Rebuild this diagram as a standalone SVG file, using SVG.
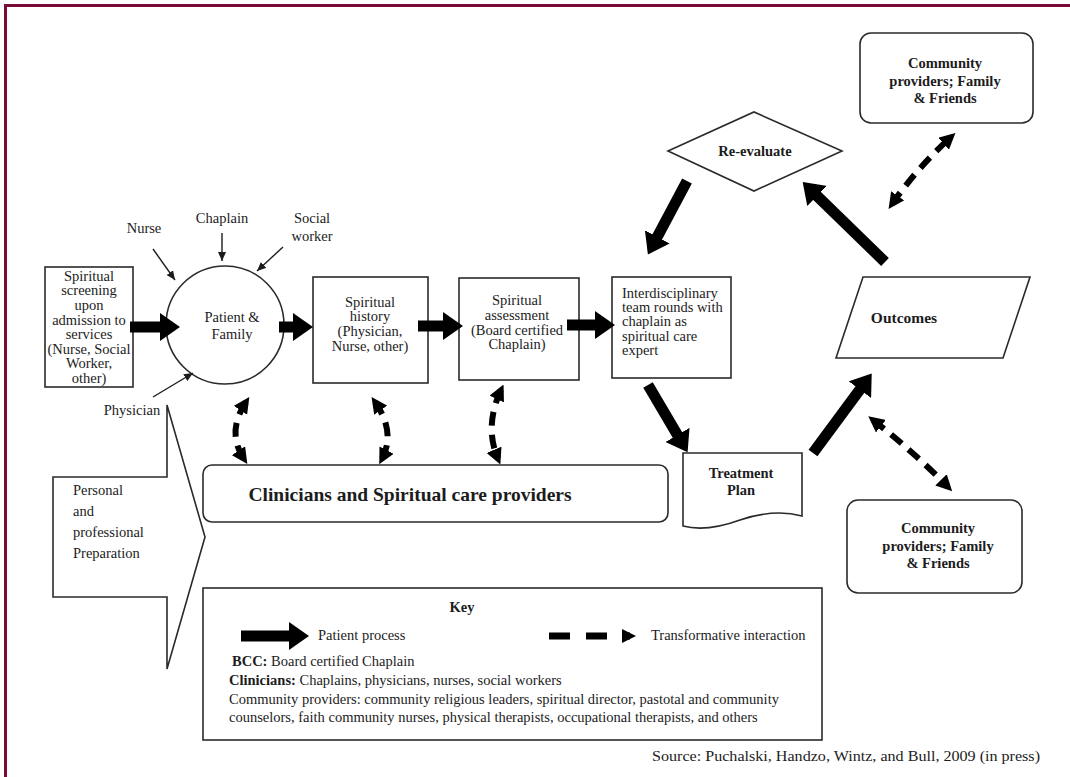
<svg xmlns="http://www.w3.org/2000/svg" width="1070" height="777" viewBox="0 0 1070 777">
<defs>
<style>
.t{font-family:"Liberation Serif","Times New Roman",serif;font-size:14.5px;fill:#1c1c1c}
.b{font-weight:bold}
.c{text-anchor:middle}
.box{fill:#fff;stroke:#2a2a2a;stroke-width:1.6}
.thick{fill:none;stroke:#000;stroke-width:11;marker-end:url(#hd)}
.dash{fill:none;stroke:#000;stroke-width:6;stroke-dasharray:14 9;marker-start:url(#dh);marker-end:url(#dh)}
.thin{fill:none;stroke:#1c1c1c;stroke-width:1.4;marker-end:url(#th)}
</style>
<marker id="hd" markerUnits="userSpaceOnUse" markerWidth="20" markerHeight="28" viewBox="0 0 20 28" refX="7" refY="14" orient="auto"><path d="M0,0 L20,14 L0,28 z" fill="#000"/></marker>
<marker id="dh" markerUnits="userSpaceOnUse" markerWidth="16" markerHeight="16" viewBox="0 0 16 16" refX="10" refY="8" orient="auto-start-reverse"><path d="M0,0 L16,8 L0,16 z" fill="#000"/></marker>
<marker id="kh" markerUnits="userSpaceOnUse" markerWidth="14" markerHeight="14" viewBox="0 0 14 14" refX="8" refY="7" orient="auto"><path d="M0,0 L14,7 L0,14 z" fill="#000"/></marker>
<marker id="th" markerUnits="userSpaceOnUse" markerWidth="9" markerHeight="8" viewBox="0 0 9 8" refX="9" refY="4" orient="auto"><path d="M0,0 L9,4 L0,8 z" fill="#1c1c1c"/></marker>
</defs>
<rect x="0" y="0" width="1070" height="777" fill="#fff"/>
<path d="M4,5.5 H1070 M5.5,5 V777" stroke="#7a0a3a" stroke-width="3" fill="none"/>

<g id="personal-preparation">
<path class="box" d="M53,477 H167 V405 L205,537 L167,669 V597 H53 Z"/>
<text class="t" x="73" y="495">Personal</text>
<text class="t" x="73" y="516">and</text>
<text class="t" x="73" y="537">professional</text>
<text class="t" x="73" y="558">Preparation</text>
</g>

<g id="screening">
<rect class="box" x="45" y="267" width="88" height="120"/>
<text class="t c" x="89" y="281">Spiritual</text>
<text class="t c" x="89" y="295">screening</text>
<text class="t c" x="89" y="310">upon</text>
<text class="t c" x="89" y="325">admission to</text>
<text class="t c" x="89" y="339">services</text>
<text class="t c" x="89" y="354">(Nurse, Social</text>
<text class="t c" x="89" y="368">Worker,</text>
<text class="t c" x="89" y="383">other)</text>
</g>

<g id="patient-family">
<circle class="box" cx="225" cy="325" r="59"/>
<text class="t c" x="232" y="322">Patient &amp;</text>
<text class="t c" x="232" y="339">Family</text>
</g>

<g id="labels">
<text class="t c" x="144" y="233">Nurse</text>
<text class="t c" x="222" y="223">Chaplain</text>
<text class="t c" x="312" y="223">Social</text>
<text class="t c" x="312" y="241">worker</text>
<text class="t c" x="132" y="415">Physician</text>
</g>

<g id="spiritual-history">
<rect class="box" x="313" y="277" width="115" height="106"/>
<text class="t c" x="370" y="307">Spiritual</text>
<text class="t c" x="370" y="321">history</text>
<text class="t c" x="370" y="336">(Physician,</text>
<text class="t c" x="370" y="351">Nurse, other)</text>
</g>

<g id="spiritual-assessment">
<rect class="box" x="459" y="278" width="120" height="102"/>
<text class="t c" x="517" y="305">Spiritual</text>
<text class="t c" x="517" y="320">assessment</text>
<text class="t c" x="517" y="335">(Board certified</text>
<text class="t c" x="517" y="349">Chaplain)</text>
</g>

<g id="team-rounds">
<rect class="box" x="612" y="277" width="119" height="101"/>
<text class="t" x="622" y="298">Interdisciplinary</text>
<text class="t" x="622" y="312">team rounds with</text>
<text class="t" x="622" y="326">chaplain as</text>
<text class="t" x="622" y="341">spiritual care</text>
<text class="t" x="622" y="355">expert</text>
</g>

<g id="re-evaluate">
<path class="box" d="M668,151 L754,112 L842,151 L754,191 Z"/>
<text class="t b c" x="755" y="156">Re-evaluate</text>
</g>

<g id="outcomes">
<path class="box" d="M863,277 H1030 L1003,358 H836 Z"/>
<text class="t b c" x="904" y="323" style="font-size:15.5px">Outcomes</text>
</g>

<g id="treatment-plan">
<path class="box" d="M683,453 H802 V516 C780,510 758,514 740,520 C718,528 698,530 683,526 Z"/>
<text class="t b c" x="741" y="478">Treatment</text>
<text class="t b c" x="741" y="495">Plan</text>
</g>

<g id="community-top">
<rect class="box" x="860" y="33" width="173" height="90" rx="11"/>
<text class="t b c" x="945" y="68">Community</text>
<text class="t b c" x="945" y="86">providers; Family</text>
<text class="t b c" x="945" y="103">&amp; Friends</text>
</g>

<g id="community-bottom">
<rect class="box" x="847" y="500" width="175" height="93" rx="11"/>
<text class="t b c" x="938" y="533">Community</text>
<text class="t b c" x="938" y="551">providers; Family</text>
<text class="t b c" x="938" y="568">&amp; Friends</text>
</g>

<g id="clinicians">
<rect class="box" x="203" y="465" width="465" height="57" rx="9"/>
<text class="t b c" x="410" y="501" style="font-size:19.5px">Clinicians and Spiritual care providers</text>
</g>

<g id="key">
<rect class="box" x="203" y="588" width="619" height="152"/>
<text class="t b c" x="462" y="612">Key</text>
<path d="M241,636 H296" fill="none" stroke="#000" stroke-width="11" marker-end="url(#hd)"/>
<text class="t" x="318" y="640">Patient process</text>
<path d="M549,636 H630" fill="none" stroke="#000" stroke-width="7" stroke-dasharray="21 16" marker-end="url(#kh)"/>
<text class="t" x="651" y="640">Transformative interaction</text>
<text class="t" x="232" y="666"><tspan class="b">BCC:</tspan> Board certified Chaplain</text>
<text class="t" x="229" y="685"><tspan class="b">Clinicians:</tspan> Chaplains, physicians, nurses, social workers</text>
<text class="t" x="229" y="704">Community providers: community religious leaders, spiritual director, pastotal and community</text>
<text class="t" x="229" y="722">counselors, faith community nurses, physical therapists, occupational therapists, and others</text>
</g>

<text class="t" x="652" y="761" textLength="388" lengthAdjust="spacingAndGlyphs" style="font-size:15px">Source: Puchalski, Handzo, Wintz, and Bull, 2009 (in press)</text>

<g id="connectors">
<path class="thin" d="M153,249 L175,280"/>
<path class="thin" d="M222,233 L222,261"/>
<path class="thin" d="M283,247 L257,271"/>
<path class="thin" d="M153,397 L193,373"/>
<path class="thick" d="M130,327 H167"/>
<path class="thick" d="M279,327 H300"/>
<path class="thick" d="M418,326 H450"/>
<path class="thick" d="M567,325 H602"/>
<path class="thick" d="M687,181 L654,243"/>
<path class="thick" d="M885,262 L812,191"/>
<path class="thick" d="M648,385 L681,441"/>
<path class="thick" d="M813,453 L864,384"/>
<path class="dash" d="M246,402 Q226,432 244,459"/>
<path class="dash" d="M375,402 Q396,432 382,459"/>
<path class="dash" d="M501,390 Q484,426 498,459"/>
<path class="dash" d="M892,204 Q917,168 951,137"/>
<path class="dash" d="M873,420 Q914,452 948,487"/>
</g>
</svg>
